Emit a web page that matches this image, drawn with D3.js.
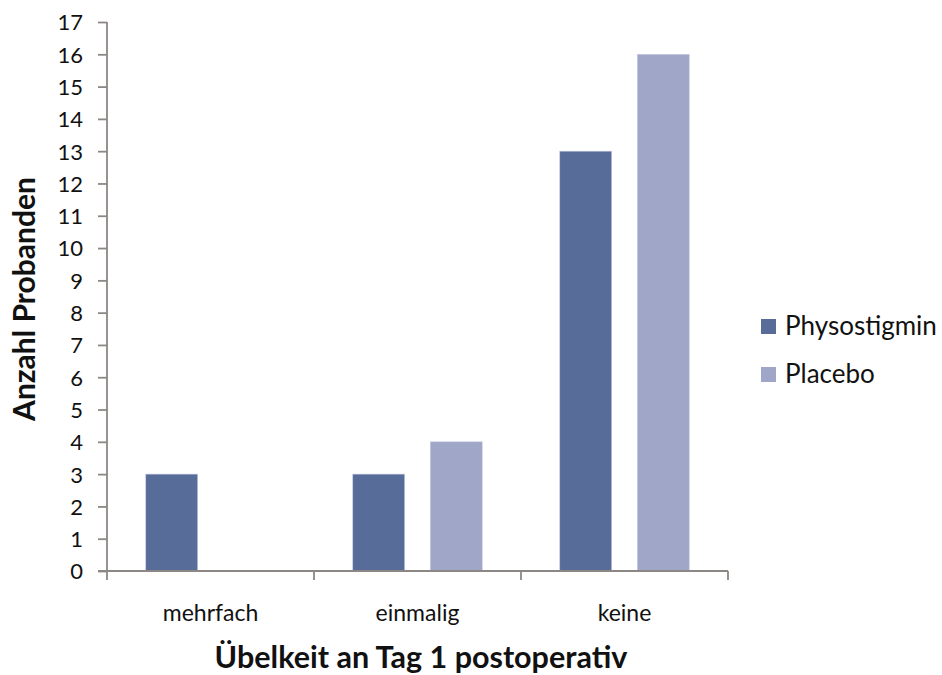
<!DOCTYPE html>
<html>
<head>
<meta charset="utf-8">
<script src="https://cdn.jsdelivr.net/npm/d3@7"></script>
<style>
  html, body { margin: 0; padding: 0; background: #fff; }
  svg { display: block; font-family: Lato, "Open Sans", sans-serif; }
</style>
</head>
<body>
<svg id="chart" width="942" height="675"></svg>
<script>
// Nausea on postoperative day 1, subjects per group
const categories = ["mehrfach", "einmalig", "keine"];
const seriesNames = ["Physostigmin", "Placebo"];
const physostigmin = [3, 3, 13];
const placebo = [0, 4, 16];
const yTicks = d3.range(0, 18);
const colors = ["#586C9A", "#A0A6C8"];

const svg = d3.select("#chart");
const margin = { left: 107, right: 728, top: 22, bottom: 571 };

const x = d3.scaleBand().domain(categories).range([margin.left, margin.right]);
const xs = d3.scaleBand().domain(seriesNames)
  .range([0, x.bandwidth()]).paddingInner(0.33).paddingOuter(0.5);
const y = d3.scaleLinear().domain([0, 17]).range([margin.bottom, margin.top]);

const rows = categories.map((c, i) => ({ cat: c, vals: [physostigmin[i], placebo[i]] }));

// bars
const g = svg.append("g");
rows.forEach(r => {
  r.vals.forEach((v, j) => {
    if (v <= 0) return;
    g.append("rect")
      .attr("x", x(r.cat) + xs(seriesNames[j]))
      .attr("y", y(v))
      .attr("width", xs.bandwidth())
      .attr("height", y(0) - y(v))
      .attr("fill", colors[j])
      .attr("stroke", "#c4cbe0")
      .attr("stroke-width", 0.6);
  });
});

const axisColor = "#8c8784";

// y axis
const yAxis = svg.append("g")
  .attr("transform", `translate(${margin.left},0)`)
  .call(d3.axisLeft(y).tickValues(yTicks).tickSize(9).tickPadding(15).tickFormat(d3.format("d")));
yAxis.select(".domain").attr("stroke", axisColor).attr("stroke-width", 1.8).attr("d", `M0,${margin.top}V${margin.bottom}`);
yAxis.selectAll(".tick line").attr("stroke", axisColor).attr("stroke-width", 1.8);
yAxis.selectAll(".tick text").attr("font-size", 22).attr("fill", "#111")
  .attr("font-family", "Lato, 'Open Sans', sans-serif").attr("dy", "0.36em");

// x axis with ticks at category boundaries
const xAxisG = svg.append("g").attr("transform", `translate(0,${margin.bottom})`);
xAxisG.append("line")
  .attr("x1", margin.left - 9).attr("x2", margin.right)
  .attr("stroke", axisColor).attr("stroke-width", 1.8);
const boundaries = categories.map(c => x(c)).concat([x(categories[categories.length - 1]) + x.bandwidth()]);
xAxisG.selectAll("line.b").data(boundaries).join("line")
  .attr("class", "b")
  .attr("x1", d => d).attr("x2", d => d)
  .attr("y1", 0).attr("y2", 9)
  .attr("stroke", axisColor).attr("stroke-width", 1.8);
xAxisG.selectAll("text").data(categories).join("text")
  .attr("x", d => x(d) + x.bandwidth() / 2)
  .attr("y", 50)
  .attr("text-anchor", "middle")
  .attr("font-size", 23)
  .attr("fill", "#111")
  .text(d => d);

// axis titles
svg.append("text")
  .attr("x", 421).attr("y", 668)
  .attr("text-anchor", "middle")
  .attr("font-size", 30.5).attr("font-weight", "bold").attr("fill", "#111")
  .text("Übelkeit an Tag 1 postoperativ");

svg.append("text")
  .attr("transform", "translate(35,299) rotate(-90)")
  .attr("text-anchor", "middle")
  .attr("font-size", 30).attr("font-weight", "bold").attr("fill", "#111")
  .text("Anzahl Probanden");

// legend
const legend = svg.append("g").attr("transform", "translate(761,319)");
seriesNames.forEach((s, i) => {
  const row = legend.append("g").attr("transform", `translate(0,${i * 48})`);
  row.append("rect").attr("width", 15).attr("height", 15).attr("fill", colors[i]);
  row.append("text").attr("x", 24).attr("y", 16).attr("font-size", 26).attr("fill", "#111").text(s);
});
</script>
</body>
</html>
